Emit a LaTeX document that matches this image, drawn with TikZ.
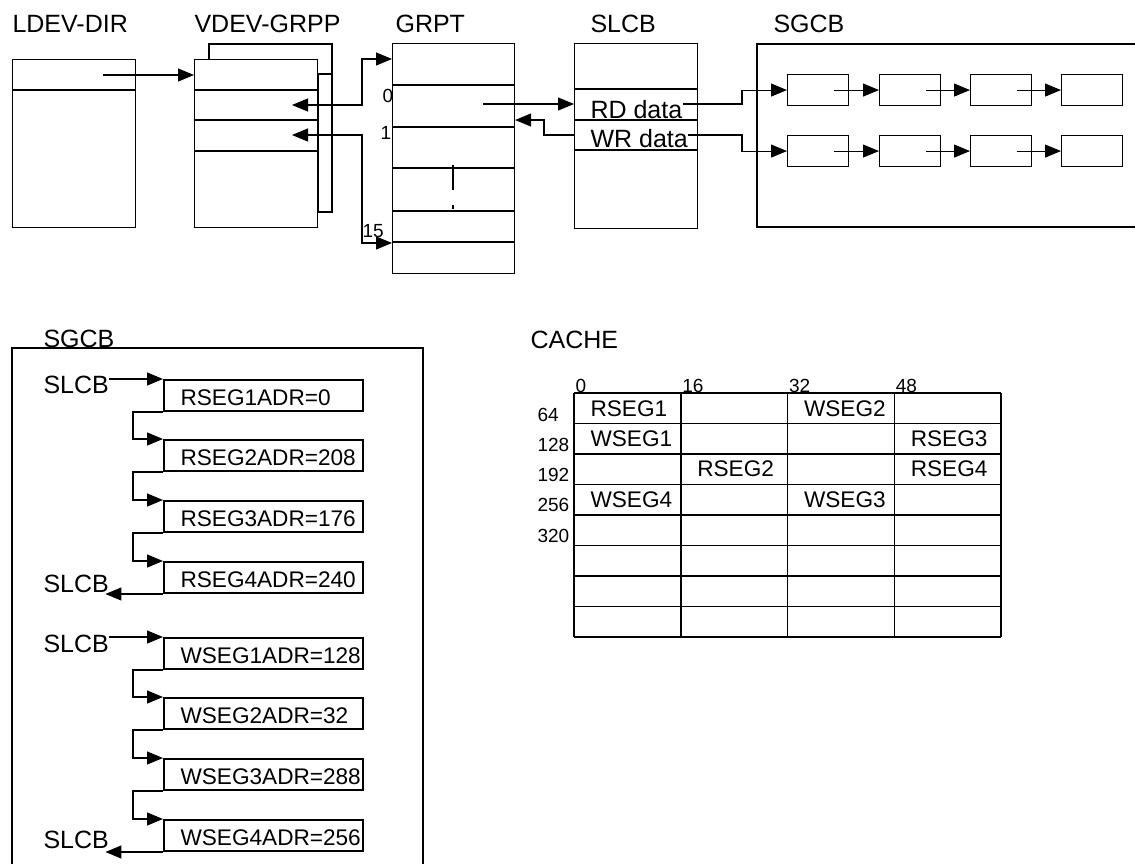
\documentclass[tikz,border=0pt]{standalone}
\usepackage{fontspec}
\setmainfont{Liberation Sans}
\usetikzlibrary{arrows.meta,calc}
\newcommand{\ttlfont}{\fontsize{25}{30}\selectfont}
\newcommand{\segfont}{\fontsize{22.6}{27}\selectfont}
\newcommand{\numfont}{\fontsize{19}{22}\selectfont}

\begin{document}
\begin{tikzpicture}[x=1pt,y=-1pt,line width=1.1pt,>={Triangle[length=16pt,width=13pt]},
    ttl/.style={font=\ttlfont,inner sep=0pt,anchor=base west},
    seg/.style={font=\segfont,inner sep=0pt,anchor=base west},
    num/.style={font=\numfont,inner sep=0pt,anchor=base west},
    tbl/.style={draw,fill=white,inner sep=0pt,anchor=north west},
    cell/.style={draw,inner sep=0pt,anchor=north west,minimum width=61pt,minimum height=31pt},
    segbox/.style={draw,line width=2pt,inner sep=0pt,anchor=north west,minimum width=199pt,minimum height=31pt}]
  \useasboundingbox (0,0) rectangle (1135,863);

  % titles of the upper row
  \node[ttl] (tLdev) at (12,32) {LDEV-DIR};
  \node[ttl] (tVdev) at (194,32) {VDEV-GRPP};
  \node[ttl] (tGrpt) at (395,32) {GRPT};
  \node[ttl] (tSlcb) at (590,32) {SLCB};
  \node[ttl] (tSgcb) at (773,32) {SGCB};

  % LDEV-DIR
  \node[tbl,minimum width=123pt,minimum height=168pt] (ldev) at (12,59) {};
  \draw (12,90) -- (135,90);
  \coordinate (ldevP) at (103,75);

  % VDEV-GRPP, stacked
  \draw[fill=white] (209,44) rectangle (332,212);
  \draw (318,74) rectangle (332,212);
  \node[tbl,minimum width=123pt,minimum height=168pt] (vdev) at (194,59) {};
  \foreach \y in {90,120,151}
    \draw (194,\y) -- (317,\y);
  \coordinate (vdev0) at (292,105);
  \coordinate (vdev1) at (292,135);

  % GRPT
  \node[tbl,minimum width=122pt,minimum height=230pt] (grpt) at (392,43) {};
  \foreach \y in {85,127,168,211}
    \draw (392,\y) -- (514,\y);
  \draw[line width=2pt] (392,242) -- (514,242);
  \draw (453,165) -- (453,190);
  \draw (453,205) -- (453,209);
  \node[num] (gIdx0) at (382,102) {0};
  \node[num] (gIdx1) at (380,139) {1};
  \node[num] (gIdx15) at (362,237) {15};
  \coordinate (grptTop) at (392,59);
  \coordinate (grptBot) at (392,243);
  \coordinate (grptP) at (483,104);

  % SLCB
  \node[tbl,minimum width=123pt,minimum height=185pt] (slcb) at (574,43) {};
  \draw[line width=2pt] (574,89) -- (697,89);
  \draw (574,120) -- (697,120);
  \draw[line width=2pt] (574,150) -- (697,150);
  \node[ttl] (rd) at (590,118) {RD data};
  \node[ttl] (wr) at (590,147) {WR data};
  \coordinate (rdOut) at (rd.east |- 0,104);
  \coordinate (wrOut) at (wr.east |- 0,135);

  % SGCB chains
  \draw (1136,44) -- (757,44) -- (757,227) -- (1136,227);
  \foreach \i/\x in {1/787,2/879,3/970,4/1061}{
    \node[cell] (a\i) at (\x,74) {};
    \node[cell] (b\i) at (\x,135) {};
  }
  \foreach \i/\j in {1/2,2/3,3/4}{
    \draw[->] ($(a\i.east)+(-15,0)$) -- (a\j.west);
    \draw[->] ($(b\i.east)+(-15,0)$) -- (b\j.west);
  }

  % connectors of the upper row
  \draw[->] (ldevP) -- (ldevP -| vdev.west);
  \draw[<->] (vdev0) -| ($(grptTop)+(-30,0)$) -- (grptTop);
  \draw[<->] (vdev1) -| ($(grptBot)+(-30,0)$) -- (grptBot);
  \draw[->] (grptP) -- (grptP -| slcb.west);
  \draw[->] (slcb.west |- 0,135) -| (544,120) -- (grpt.east |- 0,120);
  \draw[->] (rdOut) -| ($(a1.west)+(-45,0)$) -- (a1.west);
  \draw[->] (wrOut) -| ($(b1.west)+(-45,0)$) -- (b1.west);

  % lower SGCB
  \draw (12,864) -- (12,348) -- (423,348) -- (423,864);
  \node[ttl] (tSgcbLow) at (43,347) {SGCB};
  \foreach \n/\y/\t in {1/379/RSEG1ADR=0,2/439/RSEG2ADR=208,3/500/RSEG3ADR=176,4/561/RSEG4ADR=240}{
    \node[segbox] (r\n) at (163,\y) {};
    \node[seg] (rt\n) at ($(r\n.south west)+(17,-7)$) {\t};
  }
  \foreach \n/\y/\t in {1/637/WSEG1ADR=128,2/697/WSEG2ADR=32,3/758/WSEG3ADR=288,4/819/WSEG4ADR=256}{
    \node[segbox] (w\n) at (163,\y) {};
    \node[seg] (wt\n) at ($(w\n.south west)+(17,-7)$) {\t};
  }
  \node[ttl] (sR1) at (43,393) {SLCB};
  \node[ttl] (sR2) at (43,592) {SLCB};
  \node[ttl] (sW1) at (43,652) {SLCB};
  \node[ttl] (sW2) at (43,848) {SLCB};
  \draw[->] (sR1.east |- r1.north west) -- (r1.north west);
  \draw[->] (sW1.east |- w1.north west) -- (w1.north west);
  \foreach \i/\j in {1/2,2/3,3/4}{
    \draw[->] (r\i.south west) -- ++(-30,0) |- (r\j.north west);
    \draw[->] (w\i.south west) -- ++(-30,0) |- (w\j.north west);
  }
  \draw[->] (r4.south west) -- ($(sR2.east |- r4.south west)+(-4,0)$);
  \draw[->] (w4.south west) -- ($(sW2.east |- w4.south west)+(-4,0)$);

  % CACHE
  \node[ttl] (tCache) at (530,348) {CACHE};
  \foreach \c in {0,...,4}
    \draw[line width=1.5pt] ({574+106.75*\c},393) -- ({574+106.75*\c},637);
  \foreach \r in {0,...,8}
    \draw[line width=1.5pt] (574,{393+30.5*\r}) -- (1001,{393+30.5*\r});
  \foreach \c/\t in {0/0,1/16,2/32,3/48}
    \node[num] (col\t) at ({575+106.75*\c},392) {\t};
  \foreach \r/\t in {0/64,1/128,2/192,3/256,4/320}
    \node[num] (row\t) at (537,{421+30.25*\r}) {\t};
  \foreach \c/\r/\t in {0/0/RSEG1,2/0/WSEG2,0/1/WSEG1,3/1/RSEG3,1/2/RSEG2,3/2/RSEG4,0/3/WSEG4,2/3/WSEG3}
    \node[seg] (c\t) at ({590+106.75*\c},{416+30.4*\r}) {\t};
\end{tikzpicture}
\end{document}
